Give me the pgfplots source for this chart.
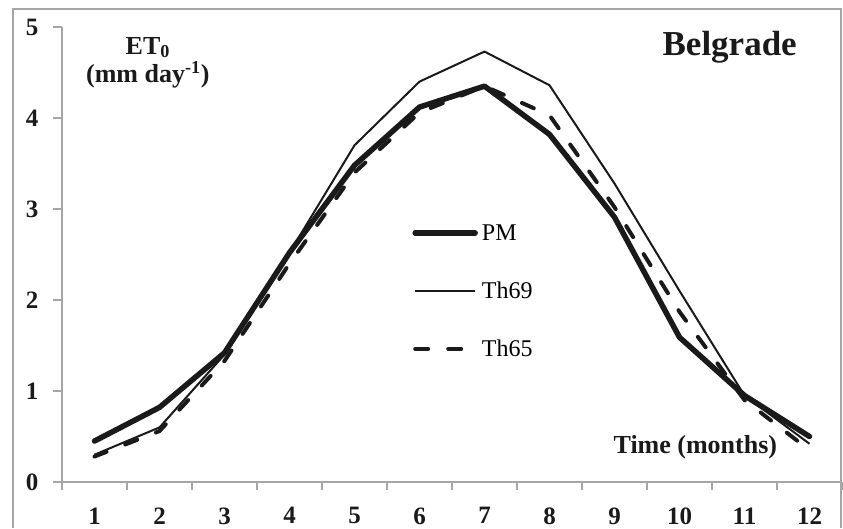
\documentclass[border=0pt]{standalone}
\usepackage{fontspec}
\setmainfont{Liberation Serif}
\usepackage{pgfplots}
\pgfplotsset{compat=1.18}

\definecolor{axgray}{HTML}{A6A6A6}
\definecolor{ink}{HTML}{1A1A1A}

\newcommand{\tickfont}{\fontsize{25}{25}\selectfont\bfseries}

\begin{document}
\begin{tikzpicture}
\begin{axis}[
    at={(62pt,44pt)}, anchor=south west,
    scale only axis,
    width=780pt, height=455pt,
    xmin=0.5, xmax=12.5,
    ymin=0, ymax=5,
    axis x line*=bottom,
    axis y line*=left,
    axis line style={-, draw=axgray, line width=1.2pt},
    xtick={1,...,12},
    minor xtick={0.5,1.5,...,12.5},
    ytick={0,1,2,3,4,5},
    tick align=outside,
    major x tick style={draw=none},
    minor tick length=8pt,
    major tick length=9pt,
    tick style={axgray, line width=1.2pt},
    xticklabel={\tickfont\pgfmathprintnumber[assume math mode=true]{\tick}},
    yticklabel={\tickfont\pgfmathprintnumber[assume math mode=true]{\tick}},
    xticklabel style={text=ink, yshift=-13pt},
    yticklabel style={text=ink, xshift=-11pt},
    clip=false,
    legend style={draw=none, fill=none, at={(0.449,0.571)}, anchor=north west,
        inner sep=0pt, row sep=36pt, font=\fontsize{24}{24}\selectfont,
        nodes={inner xsep=4pt}, cells={anchor=west}},
    legend image code/.code={\draw[#1] (0pt,0pt) -- (60pt,0pt);},
]
\addplot[ink, line width=5.5pt, line join=round, line cap=round] coordinates {
    (1,0.45) (2,0.82) (3,1.42) (4,2.52) (5,3.48) (6,4.12)
    (7,4.35) (8,3.82) (9,2.91) (10,1.59) (11,0.95) (12,0.50)};
\addlegendentry{PM}
\addplot[ink, line width=2pt, line join=round] coordinates {
    (1,0.30) (2,0.60) (3,1.40) (4,2.52) (5,3.70) (6,4.40)
    (7,4.73) (8,4.36) (9,3.28) (10,2.10) (11,0.95) (12,0.42)};
\addlegendentry{Th69}
\addplot[ink, line width=4pt, line cap=round, dash pattern=on 13pt off 20pt] coordinates {
    (1,0.28) (2,0.56) (3,1.33) (4,2.40) (5,3.40) (6,4.06)
    (7,4.35) (8,4.03) (9,3.02) (10,1.87) (11,0.90) (12,0.35)};
\addlegendentry{Th65}

\node[font=\fontsize{26}{26}\selectfont\bfseries, text=ink] at (rel axis cs:0.110,0.955) {ET\textsubscript{0}};
\node[font=\fontsize{26}{26}\selectfont\bfseries, text=ink] at (rel axis cs:0.110,0.895) {(mm day\textsuperscript{-1})};
\node[font=\fontsize{35}{35}\selectfont\bfseries, text=ink] at (rel axis cs:0.856,0.955) {Belgrade};
\node[font=\fontsize{26}{26}\selectfont\bfseries, text=ink] at (rel axis cs:0.812,0.077) {Time (months)};
\end{axis}
\pgfresetboundingbox
\path (0,0) rectangle (843pt,526pt);
\draw[axgray, line width=1.2pt] (13pt,-2pt) -- (13pt,517pt) -- (841pt,517pt) -- (841pt,-2pt);
\end{tikzpicture}
\end{document}
